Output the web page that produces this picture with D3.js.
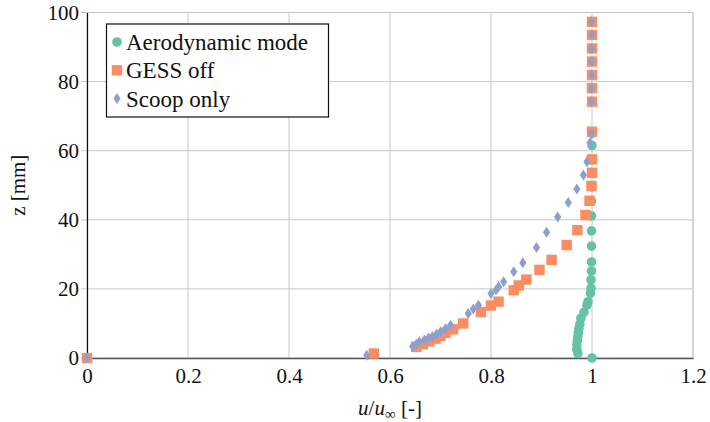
<!DOCTYPE html>
<html>
<head>
<meta charset="utf-8">
<script src="https://cdn.jsdelivr.net/npm/d3@7"></script>
<style>
body { margin: 0; background: #fff; }
</style>
</head>
<body>
<script>
// [u/u_inf, z in mm]
var aeroPoints = [
	[1.0, 0], [0.972, 1.3], [0.970, 2.5], [0.970, 3.8], [0.971, 5.0], [0.972, 6.2],
	[0.973, 7.3], [0.974, 8.5], [0.976, 9.8], [0.978, 11.5], [0.984, 13.2], [0.990, 15.3],
	[0.992, 16.3], [0.997, 18.8], [0.998, 20.2], [0.998, 22.6], [0.999, 25.2], [0.999, 27.8],
	[0.999, 32.4], [0.999, 36.8], [0.999, 41.1], [0.999, 45.4], [1.0, 49.5], [1.0, 53.5],
	[1.0, 57.3], [1.0, 61.5], [1.0, 65.0], [1.0, 74.2], [1.0, 78.1], [1.0, 81.9],
	[1.0, 85.8], [1.0, 89.6], [1.0, 93.5], [1.0, 97.3]
];
var gessPoints = [
	[0, 0], [0.568, 1.3], [0.652, 3.2], [0.665, 4.0], [0.678, 4.8], [0.690, 5.6],
	[0.700, 6.4], [0.710, 7.3], [0.725, 8.3], [0.745, 10.0], [0.780, 13.3], [0.800, 15.2],
	[0.815, 16.3], [0.845, 19.6], [0.855, 21.0], [0.870, 22.7], [0.896, 25.5], [0.920, 28.4],
	[0.950, 32.7], [0.971, 37.0], [0.987, 41.4], [0.995, 45.5], [0.999, 49.8], [1.0, 53.6],
	[1.0, 57.5], [1.0, 65.5], [1.0, 74.2], [1.0, 78.1], [1.0, 81.9], [1.0, 85.8],
	[1.0, 89.6], [1.0, 93.5], [1.0, 97.3]
];
var scoopPoints = [
	[0, 0], [0.554, 0.8], [0.645, 3.3], [0.652, 4.0], [0.658, 4.7], [0.668, 5.2],
	[0.676, 5.8], [0.684, 6.2], [0.692, 6.9], [0.700, 7.6], [0.710, 8.5], [0.720, 9.5],
	[0.755, 12.9], [0.765, 14.2], [0.775, 15.3], [0.800, 18.7], [0.810, 19.7], [0.815, 20.6],
	[0.825, 22.1], [0.845, 25.0], [0.863, 27.6], [0.890, 32.0], [0.910, 36.4], [0.932, 40.8],
	[0.953, 45.0], [0.970, 48.9], [0.983, 53.0], [0.990, 56.8], [0.996, 62.3], [0.999, 65.0],
	[0.999, 74.2], [0.999, 78.1], [0.999, 81.9], [0.999, 85.8], [0.999, 89.6], [0.999, 93.5],
	[0.999, 97.3]
];

var xTicks = [0, 0.2, 0.4, 0.6, 0.8, 1, 1.2];
var yTicks = [0, 20, 40, 60, 80, 100];
var seriesNames = ["Aerodynamic mode", "GESS off", "Scoop only"];
var seriesColors = ["#66c2a5", "#fc8d62", "#8da0cb"];

var svgContainer,
	plotLeft = 87,
	plotRight = 693,
	plotTop = 12.5,
	plotBottom = 358,
	serif = "Liberation Serif";

var xScale = d3.scaleLinear().domain([0, 1.2]).range([plotLeft, plotRight]);
var yScale = d3.scaleLinear().domain([0, 100]).range([plotBottom, plotTop]);

// serif face, forced with an inline !important style
function serifText(sel, size) {
	return sel.attr("font-family", serif)
	.attr("font-size", size)
	.attr("style", "font-family: 'Liberation Serif' !important; font-size: " + size + "px !important")
	.attr("fill", "#111");
}

function drawGrid() {
	var grid = svgContainer.append("g").attr("stroke", "#c8c8c8").attr("stroke-width", 1);
	xTicks.forEach(function(t) {
		grid.append("line")
		.attr("x1", xScale(t)).attr("x2", xScale(t))
		.attr("y1", plotTop).attr("y2", plotBottom);
	});
	yTicks.forEach(function(t) {
		grid.append("line")
		.attr("x1", plotLeft - 6).attr("x2", plotRight)
		.attr("y1", yScale(t)).attr("y2", yScale(t));
	});
}

function drawAxes() {
	var xAxis = d3.axisBottom(xScale).tickValues(xTicks).tickSize(0).tickPadding(9)
		.tickFormat(function(d) { return d === 0 || d === 1 ? String(d) : d3.format(".1f")(d); });
	var yAxis = d3.axisLeft(yScale).tickValues(yTicks).tickSize(0).tickPadding(8);

	var xg = svgContainer.append("g")
	.attr("transform", "translate(0," + plotBottom + ")")
	.call(xAxis)
	.attr("font-family", serif)
	.attr("font-size", 21);
	xg.select(".domain").attr("stroke", "#555").attr("stroke-width", 1.3);
	serifText(xg.selectAll("text"), 21).attr("dy", "0.76em");

	var yg = svgContainer.append("g")
	.attr("transform", "translate(" + plotLeft + ",0)")
	.call(yAxis)
	.attr("font-family", serif)
	.attr("font-size", 21);
	yg.select(".domain").attr("stroke", "#111").attr("stroke-width", 1.2);
	serifText(yg.selectAll("text"), 21);

	serifText(svgContainer.append("text"), 21)
	.attr("transform", "translate(25," + ((plotTop + plotBottom) / 2) + ") rotate(-90)")
	.attr("text-anchor", "middle")
	.text("z [mm]");

	var xl = serifText(svgContainer.append("text"), 21)
	.attr("x", (plotLeft + plotRight) / 2)
	.attr("y", 415)
	.attr("text-anchor", "middle");
	xl.append("tspan").attr("font-style", "italic").text("u");
	xl.append("tspan").text("/");
	xl.append("tspan").attr("font-style", "italic").text("u");
	xl.append("tspan").attr("style", "font-size: 15px").attr("dy", 4).text("\u221e");
	xl.append("tspan").attr("dy", -4).text(" [-]");
}

function drawMarker(g, type, cx, cy, color) {
	if (type === 0) {
		g.append("circle").attr("cx", cx).attr("cy", cy).attr("r", 4.8).attr("fill", color);
	} else if (type === 1) {
		g.append("rect").attr("x", cx - 5.2).attr("y", cy - 5.2)
		.attr("width", 10.4).attr("height", 10.4).attr("fill", color);
	} else {
		g.append("path")
		.attr("d", "M" + cx + "," + (cy - 5.5) + "L" + (cx + 3.6) + "," + cy +
			"L" + cx + "," + (cy + 5.5) + "L" + (cx - 3.6) + "," + cy + "Z")
		.attr("fill", color);
	}
}

function drawSeries(points, type) {
	var g = svgContainer.append("g");
	points.forEach(function(p) {
		drawMarker(g, type, xScale(p[0]), yScale(p[1]), seriesColors[type]);
	});
}

function drawFrame() {
	svgContainer.append("line")
	.attr("x1", plotLeft).attr("x2", plotRight).attr("y1", plotTop).attr("y2", plotTop)
	.attr("stroke", "#c8c8c8");
	svgContainer.append("line")
	.attr("x1", plotRight).attr("x2", plotRight).attr("y1", plotTop).attr("y2", plotBottom)
	.attr("stroke", "#c8c8c8");
}

function drawLegend() {
	var lg = svgContainer.append("g");
	lg.append("rect")
	.attr("x", 106.5).attr("y", 24)
	.attr("width", 222).attr("height", 93)
	.attr("fill", "#fff").attr("stroke", "#111").attr("stroke-width", 1.2);
	seriesNames.forEach(function(name, i) {
		var cy = 42 + i * 28.3;
		drawMarker(lg, i, 117, cy, seriesColors[i]);
		serifText(lg.append("text"), 23)
		.attr("x", 126).attr("y", cy)
		.attr("dy", "0.35em")
		.text(name);
	});
}

function onLoad() {
	svgContainer = d3.select("body")
	.append("svg")
	.attr("xmlns", "http://www.w3.org/2000/svg")
	.attr("width", 710)
	.attr("height", 422)
	.attr("font-family", serif)
	.style("display", "block");

	drawGrid();
	drawFrame();
	drawAxes();
	drawSeries(aeroPoints, 0);
	drawSeries(gessPoints, 1);
	drawSeries(scoopPoints, 2);
	drawLegend();
}

onLoad();
</script>
</body>
</html>
